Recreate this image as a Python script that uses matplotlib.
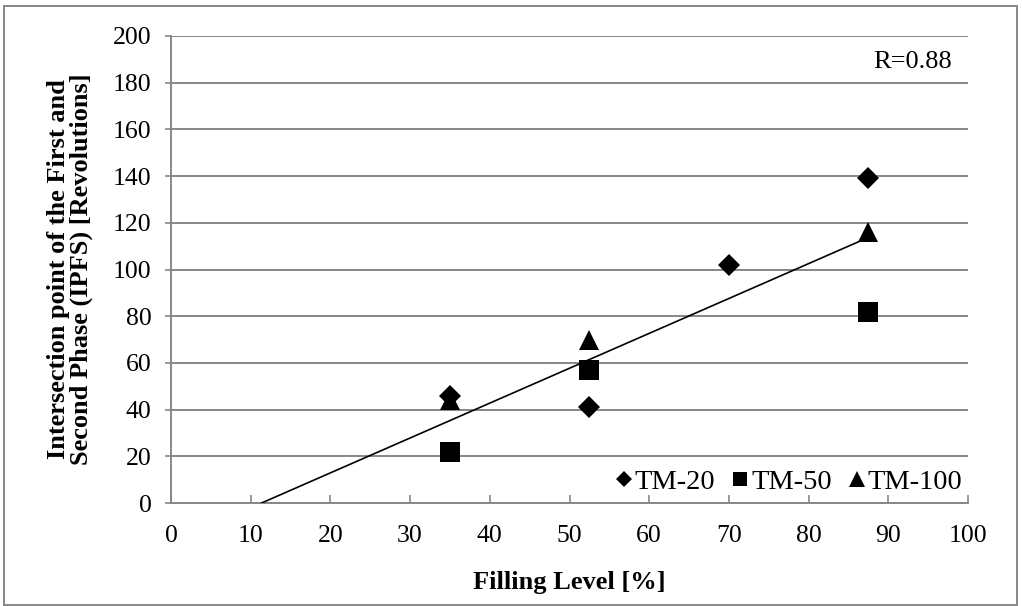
import numpy as np
import matplotlib
matplotlib.use("Agg")
import matplotlib.pyplot as plt
from matplotlib.patches import Rectangle
from matplotlib.lines import Line2D

plt.rcParams['font.family'] = ['Liberation Serif', 'DejaVu Serif']

# Filling level [%] and IPFS [revolutions] per mill series
tm20_x = [35, 52.5, 70, 87.5]
tm20_y = [46, 41, 102, 139]
tm50_x = [35, 52.5, 87.5]
tm50_y = [22, 57, 82]
tm100_x = [35, 52.5, 87.5]
tm100_y = [44, 70, 116]

x_ticks = list(range(0, 101, 10))
y_ticks = list(range(0, 201, 20))

W, H, DPI = 1022, 606, 100
fig = plt.figure(figsize=(W / DPI, H / DPI), dpi=DPI)
ax = fig.add_axes([171 / W, 1 - 503 / H, (968 - 171) / W, (503 - 36) / H])

grey = '#878787'
fs_tick = 18.5
fs_lab = 19

# Linear trend over all points
all_x = np.array(tm20_x + tm50_x + tm100_x, dtype=float)
all_y = np.array(tm20_y + tm50_y + tm100_y, dtype=float)
slope, intercept = np.polyfit(all_x, all_y, 1)
r = np.corrcoef(all_x, all_y)[0, 1]
x_start = -intercept / slope
x_end = all_x.max()
ax.plot([x_start, x_end], [slope * x_start + intercept, slope * x_end + intercept],
        color='black', lw=1.2, zorder=3)

ax.plot(tm20_x, tm20_y, linestyle='none', marker='D', ms=10.8, color='black',
        mew=0, zorder=4)
ax.plot(tm50_x, tm50_y, linestyle='none', marker='s', ms=14, color='black',
        mew=0, zorder=4)
ax.plot(tm100_x, tm100_y, linestyle='none', marker='^', ms=14.5, color='black',
        mew=0, zorder=4)

ax.set_xlim(0, 100)
ax.set_ylim(0, 200)
ax.set_xticks(x_ticks)
ax.set_yticks(y_ticks)
ax.yaxis.grid(True, color=grey, lw=1.4)
ax.set_axisbelow(True)
for s in ('top', 'right'):
    ax.spines[s].set_visible(False)
for s in ('left', 'bottom'):
    ax.spines[s].set_color(grey)
    ax.spines[s].set_linewidth(1.4)
ax.tick_params(axis='x', direction='in', length=5.5, width=1.2, color=grey,
               labelsize=fs_tick, pad=16)
ax.tick_params(axis='y', direction='out', length=4, width=1.2, color=grey,
               labelsize=fs_tick, pad=10)

ax.set_xlabel('Filling Level [%]', fontsize=fs_lab, fontweight='bold', labelpad=17)
ax.set_ylabel('Intersection point of the First and\nSecond Phase (IPFS) [Revolutions]',
              fontsize=fs_lab, fontweight='bold', labelpad=14, linespacing=1.02)

ax.text(0.98, 0.944, f'R={r:.2f}', transform=ax.transAxes, ha='right', va='center',
        fontsize=fs_lab)

handles = [
    Line2D([], [], linestyle='none', marker='D', ms=8.2, color='black', mew=0),
    Line2D([], [], linestyle='none', marker='s', ms=10.5, color='black', mew=0),
    Line2D([], [], linestyle='none', marker='^', ms=11, color='black', mew=0),
]
ax.legend(handles, ['TM-20', 'TM-50', 'TM-100'], loc='center right',
          bbox_to_anchor=(962 / W, 1 - 482 / H), bbox_transform=fig.transFigure,
          ncol=3, frameon=False, fontsize=20.5, handlelength=0.55,
          handletextpad=0.1, columnspacing=0.6, borderpad=0, borderaxespad=0)

fig.patches.append(Rectangle((4 / W, 1 / H), (1017 - 4) / W, (600 - 1) / H,
                             transform=fig.transFigure, fill=False,
                             edgecolor=grey, lw=1.4))

fig.savefig('out.png', dpi=DPI)
